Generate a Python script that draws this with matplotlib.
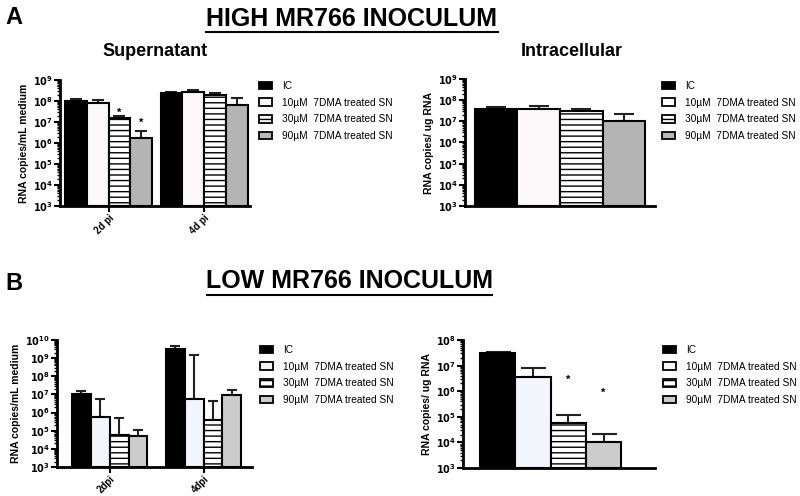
import matplotlib.pyplot as plt
import matplotlib.ticker as mticker
from matplotlib.patches import Patch
import numpy as np

plt.rcParams['font.family'] = ['Liberation Sans', 'DejaVu Sans']
plt.rcParams['hatch.linewidth'] = 1.0

series = ['IC', '10µM  7DMA treated SN', '30µM  7DMA treated SN', '90µM  7DMA treated SN']

# HIGH inoculum, supernatant (mean, top of error bar)
hi_sup_groups = ['2d pi', '4d pi']
hi_sup_mean = [[9.5e7, 2.3e8], [8.3e7, 2.6e8], [1.5e7, 1.9e8], [1.8e6, 6.5e7]]
hi_sup_top = [[1.2e8, 2.7e8], [1.1e8, 3.4e8], [2.0e7, 2.3e8], [3.7e6, 1.45e8]]
hi_sup_stars = [(0, 2, 2.6e7), (0, 3, 9.0e6)]

# HIGH inoculum, intracellular
hi_int_mean = [4.0e7, 4.0e7, 3.2e7, 1.0e7]
hi_int_top = [4.7e7, 5.2e7, 4.0e7, 2.2e7]

# LOW inoculum, supernatant
lo_sup_groups = ['2dpi', '4dpi']
lo_sup_mean = [[1.0e7, 3.0e9], [5.8e5, 5.5e6], [5.6e4, 4.1e5], [4.9e4, 9.1e6]]
lo_sup_top = [[1.6e7, 4.9e9], [5.3e6, 1.4e9], [5.1e5, 4.3e6], [1.07e5, 1.7e7]]

# LOW inoculum, intracellular
lo_int_mean = [3.0e7, 3.7e6, 5.5e4, 1.05e4]
lo_int_top = [3.5e7, 7.8e6, 1.15e5, 2.2e4]
lo_int_stars = [(2, 2.7e6), (3, 8.7e5)]

hi_colors = ['black', '#fdf9fb', 'white', '#b4b4b4']
lo_colors = ['black', '#f2f5fc', 'white', '#cccccc']
hatches = [None, None, '---', None]

fig = plt.figure(figsize=(8, 4.96), dpi=100)


def add_ax(x0, x1, y0, y1):
    return fig.add_axes([x0 / 800, 1 - y1 / 496, (x1 - x0) / 800, (y1 - y0) / 496])


def fmt(v, pos):
    return r'$\mathbf{10^{%d}}$' % int(round(np.log10(v)))


def style(ax, ylo, yhi, ylabel):
    ax.set_yscale('log')
    ax.set_ylim(ylo, yhi)
    for s in ['top', 'right']:
        ax.spines[s].set_visible(False)
    ax.spines['left'].set_linewidth(2)
    ax.spines['bottom'].set_linewidth(2)
    ax.yaxis.set_major_locator(mticker.LogLocator(base=10, numticks=20))
    ax.yaxis.set_minor_locator(mticker.LogLocator(base=10, subs=np.arange(2, 10), numticks=20))
    ax.yaxis.set_major_formatter(mticker.FuncFormatter(fmt))
    ax.yaxis.set_minor_formatter(mticker.NullFormatter())
    ax.tick_params(axis='y', which='major', length=4, width=1.5, labelsize=7, pad=1)
    ax.tick_params(axis='y', which='minor', length=2.5, width=1)
    ax.set_ylabel(ylabel, fontsize=7.5, fontweight='bold', labelpad=3)


def grouped(ax, groups, means, tops, colors, width, capsize):
    x = np.arange(len(groups))
    for i in range(4):
        pos = x + (i - 1.5) * width
        ax.bar(pos, np.array(means[i]) - 1e3, width, bottom=1e3, color=colors[i],
               edgecolor='black', linewidth=1.5, hatch=hatches[i], zorder=2)
        err = np.array(tops[i]) - np.array(means[i])
        ax.errorbar(pos, means[i], yerr=[np.zeros(len(pos)), err], fmt='none',
                    ecolor='#222222', elinewidth=1.5, capsize=capsize, capthick=1.5, zorder=1)
    ax.set_xticks(x)
    ax.set_xticklabels(groups, rotation=45, ha='right', rotation_mode='anchor',
                       fontsize=7, fontweight='bold')
    ax.tick_params(axis='x', length=4, width=1.5, pad=1)


def single(ax, means, tops, colors, capsize):
    x = np.arange(4)
    for i in range(4):
        ax.bar(x[i], means[i] - 1e3, 1.0, bottom=1e3, color=colors[i],
               edgecolor='black', linewidth=1.5, hatch=hatches[i], zorder=2)
        ax.errorbar(x[i], means[i], yerr=[[0], [tops[i] - means[i]]], fmt='none',
                    ecolor='#222222', elinewidth=1.5, capsize=capsize, capthick=1.5, zorder=1)
    ax.set_xticks([])


def legend(colors, x, y):
    handles = [Patch(facecolor=colors[i], edgecolor='black', linewidth=1.3, hatch=hatches[i])
               for i in range(4)]
    fig.legend(handles, series, loc='upper left', bbox_to_anchor=(x / 800, 1 - y / 496),
               frameon=False, fontsize=7.3, handlelength=1.3, handleheight=0.75,
               handletextpad=1.0, labelspacing=0.66, borderpad=0, borderaxespad=0)


# A: HIGH inoculum
ax1 = add_ax(60, 250, 80, 206)
style(ax1, 1e3, 1e9, 'RNA copies/mL medium')
grouped(ax1, hi_sup_groups, hi_sup_mean, hi_sup_top, hi_colors, 0.228, 4.5)
ax1.set_xlim(-0.508, 1.48)
for g, i, v in hi_sup_stars:
    ax1.text(g + (i - 1.5) * 0.228, v, '*', ha='center', va='center', fontsize=8, fontweight='bold')
legend(['black', 'white', 'white', '#b8b8b8'], 259, 81)

ax2 = add_ax(465, 655, 79, 206)
style(ax2, 1e3, 1e9, 'RNA copies/ ug RNA')
single(ax2, hi_int_mean, hi_int_top, hi_colors, 7)
ax2.set_xlim(-0.735, 3.735)
legend(['black', 'white', 'white', '#b8b8b8'], 662, 81)

# B: LOW inoculum
ax3 = add_ax(57, 252, 340, 467)
style(ax3, 1e3, 1e10, 'RNA copies/mL medium')
grouped(ax3, lo_sup_groups, lo_sup_mean, lo_sup_top, lo_colors, 0.202, 3.6)
ax3.set_xlim(-0.559, 1.516)
legend(['black', '#f2f5fc', 'white', '#cccccc'], 260, 345)

ax4 = add_ax(463, 655, 340, 468)
style(ax4, 1e3, 1e8, 'RNA copies/ ug RNA')
single(ax4, lo_int_mean, lo_int_top, lo_colors, 9)
ax4.set_xlim(-0.99, 4.46)
for i, v in lo_int_stars:
    ax4.text(i, v, '*', ha='center', va='center', fontsize=8, fontweight='bold')
legend(['black', '#f2f5fc', 'white', '#cccccc'], 663, 345)

# titles
fig.text(5 / 800, 1 - 18 / 496, 'A', fontsize=17, fontweight='bold', va='center')
fig.text(352 / 800, 1 - 19 / 496, 'HIGH MR766 INOCULUM', fontsize=18, fontweight='bold',
         ha='center', va='center')
fig.add_artist(plt.Line2D([206 / 800, 498 / 800], [1 - 32 / 496, 1 - 32 / 496], color='black', lw=1.5))
fig.text(155 / 800, 1 - 51 / 496, 'Supernatant', fontsize=13, fontweight='bold',
         ha='center', va='center')
fig.text(572 / 800, 1 - 51 / 496, 'Intracellular', fontsize=13, fontweight='bold',
         ha='center', va='center')

fig.text(5 / 800, 1 - 283 / 496, 'B', fontsize=17, fontweight='bold', va='center')
fig.text(350 / 800, 1 - 281 / 496, 'LOW MR766 INOCULUM', fontsize=18, fontweight='bold',
         ha='center', va='center')
fig.add_artist(plt.Line2D([207 / 800, 492 / 800], [1 - 295 / 496, 1 - 295 / 496], color='black', lw=1.5))

plt.savefig('out.png', dpi=100)
